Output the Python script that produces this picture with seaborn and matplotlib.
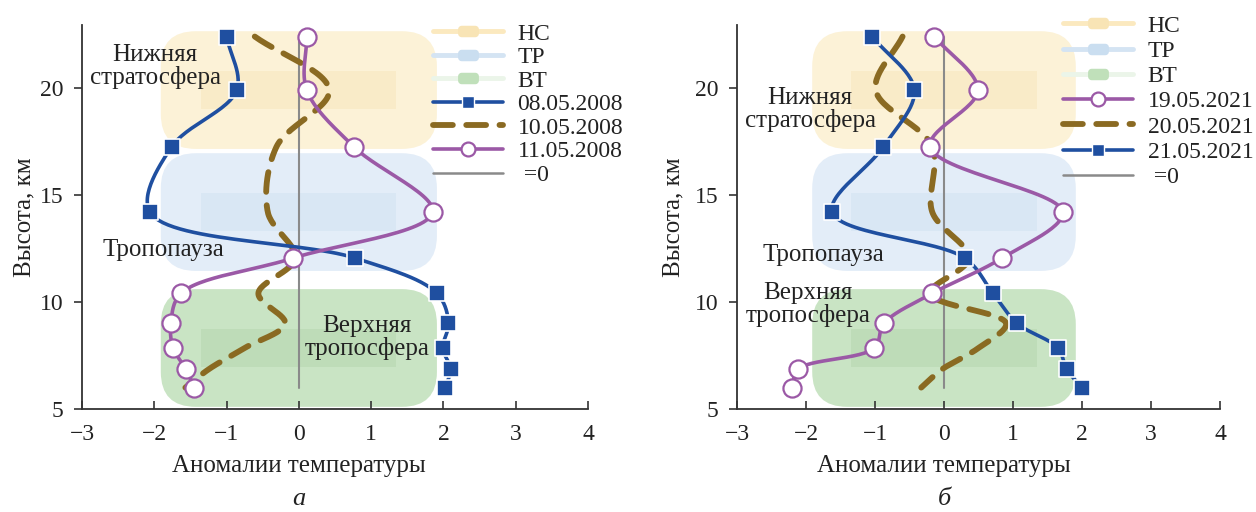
import numpy as np
import matplotlib
matplotlib.use("Agg")
import matplotlib.pyplot as plt
import seaborn as sns
from matplotlib.patches import FancyBboxPatch, Rectangle
from matplotlib.lines import Line2D

sns.set_theme(style="white")
plt.rcParams["font.family"] = ["Liberation Serif", "DejaVu Serif"]
plt.rcParams["axes.unicode_minus"] = True

# Heights of the sounding levels, km
heights = [22.4, 19.9, 17.25, 14.2, 12.05, 10.4, 9.0, 7.85, 6.85, 6.0]

# Panel "а": temperature anomalies, May 2008
t_08_05_2008 = [-1.00, -0.86, -1.76, -2.06, 0.78, 1.91, 2.07, 1.99, 2.10, 2.02]
t_10_05_2008 = [-0.61, 0.42, -0.31, -0.43, -0.05, -0.56, -0.19, -0.75, -1.25, -1.57]
t_11_05_2008 = [0.11, 0.11, 0.76, 1.85, -0.08, -1.63, -1.77, -1.74, -1.56, -1.45]

# Panel "б": temperature anomalies, May 2021
t_19_05_2021 = [-0.14, 0.49, -0.20, 1.72, 0.84, -0.17, -0.87, -1.01, -2.12, -2.20]
t_20_05_2021 = [-0.60, -0.99, -0.17, -0.17, 0.36, -0.20, 0.90, 0.50, -0.03, -0.33]
t_21_05_2021 = [-1.04, -0.43, -0.88, -1.62, 0.30, 0.71, 1.06, 1.65, 1.78, 2.00]

# Atmospheric layers: legend codes and the level each band is centred on
layer_codes = ["НС", "ТР", "ВТ"]
layer_levels = [19.9, 14.2, 7.85]

x_ticks = [-3, -2, -1, 0, 1, 2, 3, 4]
y_ticks = [5, 10, 15, 20]

BLUE = "#1f4fa0"
BROWN = "#8a6a22"
PURPLE = "#9b59a6"
GREY = "#8a8a8a"
TEXT = "#222222"
LAYER_OUTER = ["#fcf2d7", "#e3edf8", "#c9e4c4"]
LAYER_INNER = ["#f9ebc8", "#d9e7f4", "#bedcb8"]
LAYER_LEG_LINE = ["#fbe9bf", "#d4e4f3", "#ebf5e9"]
LAYER_LEG_MARK = ["#f8e4b5", "#cadef0", "#c0e0ba"]

FS = 18
FS_TICK = 17
FS_LEG = 17

W, H = 1256, 512
fig = plt.figure(figsize=(W / 100, H / 100), dpi=100)


def px_axes(x0, x1, y0, y1):
    return fig.add_axes([x0 / W, 1 - y1 / H, (x1 - x0) / W, (y1 - y0) / H])


def smooth(xv, yv, sx, sy, n=30, alpha=0.5):
    """Centripetal Catmull-Rom curve through the points (built in screen-like space)."""
    P = np.column_stack([np.asarray(xv, float) * sx, np.asarray(yv, float) * sy])
    P = np.vstack([2 * P[0] - P[1], P, 2 * P[-1] - P[-2]])
    out = []
    for i in range(1, len(P) - 2):
        p0, p1, p2, p3 = P[i - 1], P[i], P[i + 1], P[i + 2]
        t0 = 0.0
        t1 = t0 + max(np.linalg.norm(p1 - p0), 1e-6) ** alpha
        t2 = t1 + max(np.linalg.norm(p2 - p1), 1e-6) ** alpha
        t3 = t2 + max(np.linalg.norm(p3 - p2), 1e-6) ** alpha
        t = np.linspace(t1, t2, n)[:, None]
        A1 = (t1 - t) / (t1 - t0) * p0 + (t - t0) / (t1 - t0) * p1
        A2 = (t2 - t) / (t2 - t1) * p1 + (t - t1) / (t2 - t1) * p2
        A3 = (t3 - t) / (t3 - t2) * p2 + (t - t2) / (t3 - t2) * p3
        B1 = (t2 - t) / (t2 - t0) * A1 + (t - t0) / (t2 - t0) * A2
        B2 = (t3 - t) / (t3 - t1) * A2 + (t - t1) / (t3 - t1) * A3
        C = (t2 - t) / (t2 - t1) * B1 + (t - t1) / (t2 - t1) * B2
        out.append(C if i == len(P) - 3 else C[:-1])
    C = np.vstack(out)
    return C[:, 0] / sx, C[:, 1] / sy


def rounded_marker():
    ang = np.linspace(0, np.pi / 2, 8)
    r, w, h = 0.35, 1.0, 0.55
    pts = []
    for cx, cy, a0 in [(w - r, h - r, 0), (-w + r, h - r, np.pi / 2),
                       (-w + r, -h + r, np.pi), (w - r, -h + r, 1.5 * np.pi)]:
        for a in ang + a0:
            pts.append((cx + r * np.cos(a), cy + r * np.sin(a)))
    pts.append(pts[0])
    return pts


DASH = (3.4, 2.3)


def draw_panel(ax, series, region_text, legend_anchor, label_spacing, panel_letter):
    ax.set_xlim(-3, 4)
    ax.set_ylim(5, 22.94)
    fig.canvas.draw()
    bb = ax.get_window_extent()
    sx = bb.width / 7.0
    sy = bb.height / 17.94

    # layer bands
    rad_px = 35
    for lvl, c_out, c_in in zip(layer_levels, LAYER_OUTER, LAYER_INNER):
        rx = rad_px / sx
        box = FancyBboxPatch((-1.91, lvl - 2.75), 3.82, 5.5,
                             boxstyle=f"round,pad=0,rounding_size={rx}",
                             mutation_aspect=sx / sy, fc=c_out, ec="none", zorder=0)
        ax.add_patch(box)
        ax.add_patch(Rectangle((-1.35, lvl - 0.9), 2.7, 1.8, fc=c_in, ec="none", zorder=0.5))

    # zero reference line
    ax.plot([0, 0], [min(heights), max(heights)], color=GREY, lw=1.5, zorder=1)

    handles = []
    for code, lc, mc in zip(layer_codes, LAYER_LEG_LINE, LAYER_LEG_MARK):
        handles.append(Line2D([], [], color=lc, lw=3.5, marker=rounded_marker(),
                              markersize=15, markerfacecolor=mc, markeredgecolor="none",
                              label=code))

    for label, vals, kind in series:
        xs, ys = smooth(vals, heights, sx, sy)
        if kind == "blue":
            sns.lineplot(x=xs, y=ys, sort=False, estimator=None, color=BLUE, lw=2.6, ax=ax, zorder=3)
            sns.scatterplot(x=vals, y=heights, marker="s", s=140, color=BLUE,
                            edgecolor="white", linewidth=1.2, ax=ax, zorder=6)
            handles.append(Line2D([], [], color=BLUE, lw=2.6, marker="s", markersize=8,
                                  markerfacecolor=BLUE, markeredgecolor="white", label=label))
        elif kind == "purple":
            sns.lineplot(x=xs, y=ys, sort=False, estimator=None, color=PURPLE, lw=2.6, ax=ax, zorder=4)
            sns.scatterplot(x=vals, y=heights, marker="o", s=170, color="white",
                            edgecolor=PURPLE, linewidth=1.6, ax=ax, zorder=6)
            handles.append(Line2D([], [], color=PURPLE, lw=2.6, marker="o", markersize=10,
                                  markerfacecolor="white", markeredgecolor=PURPLE,
                                  markeredgewidth=1.6, label=label))
        else:
            sns.lineplot(x=xs, y=ys, sort=False, estimator=None, color=BROWN, lw=4.2,
                         ax=ax, zorder=2)
            ax.lines[-1].set_dashes(DASH)
            ax.lines[-1].set_dash_capstyle("round")
            h = Line2D([], [], color=BROWN, lw=4.2, label=label)
            h.set_dashes(DASH)
            h.set_dash_capstyle("round")
            handles.append(h)
    handles.append(Line2D([], [], color=GREY, lw=1.8, label=" =0"))

    fig.legend(handles=handles, loc="upper left",
               bbox_to_anchor=(legend_anchor[0] / W, 1 - legend_anchor[1] / H),
               frameon=False, fontsize=FS_LEG, borderpad=0, borderaxespad=0,
               handlelength=2.96, handletextpad=0.62, labelspacing=label_spacing,
               labelcolor=TEXT)

    for txt, x, y in region_text:
        ax.text(x, y, txt, ha="center", va="center", fontsize=FS, color=TEXT,
                linespacing=1.0, zorder=7)

    # axes styling
    for s in ["top", "right"]:
        ax.spines[s].set_visible(False)
    for s in ["left", "bottom"]:
        ax.spines[s].set_color("#333333")
        ax.spines[s].set_linewidth(1.3)
    ax.set_xticks(x_ticks)
    ax.set_yticks(y_ticks)
    ax.set_xticklabels([f"{v}".replace("-", "\u2212") for v in x_ticks])
    ax.set_yticklabels([str(v) for v in y_ticks])
    ax.tick_params(axis="x", direction="in", length=5.5, width=1.2, color="#333333",
                   pad=11, labelsize=FS_TICK, labelcolor=TEXT, bottom=True)
    ax.tick_params(axis="y", direction="out", length=5.5, width=1.2, color="#333333",
                   pad=8, labelsize=FS_TICK, labelcolor=TEXT, left=True)
    ax.set_xlabel("Аномалии температуры", fontsize=FS, color=TEXT)
    ax.xaxis.set_label_coords(3 / 7, -0.12)
    ax.set_ylabel("Высота, км", fontsize=FS, color=TEXT)
    ax.text(3 / 7, (409 - 510) / 384, panel_letter, transform=ax.transAxes,
            ha="center", va="bottom", fontsize=FS + 1, style="italic", color=TEXT)
    ax.grid(False)
    ax.set_facecolor("none")
    return ax


ax1 = px_axes(82, 588, 25, 409)
draw_panel(ax1,
           [("08.05.2008", t_08_05_2008, "blue"),
            ("10.05.2008", t_10_05_2008, "brown"),
            ("11.05.2008", t_11_05_2008, "purple")],
           [("Нижняя\nстратосфера", -1.99, 20.98),
            ("Тропопауза", -1.88, 12.43),
            ("Верхняя\nтропосфера", 0.94, 8.36)],
           (433, 23), 0.086, "а")
ax1.yaxis.set_label_coords(-0.092, 0.5)

ax2 = px_axes(737, 1220, 25, 409)
draw_panel(ax2,
           [("19.05.2021", t_19_05_2021, "purple"),
            ("20.05.2021", t_20_05_2021, "brown"),
            ("21.05.2021", t_21_05_2021, "blue")],
           [("Нижняя\nстратосфера", -1.94, 18.97),
            ("Тропопауза", -1.75, 12.2),
            ("Верхняя\nтропосфера", -1.97, 9.86)],
           (1063, 15), 0.16, "б")
ax2.yaxis.set_label_coords(-0.108, 0.5)

fig.savefig("out.png", dpi=100, facecolor="white")
